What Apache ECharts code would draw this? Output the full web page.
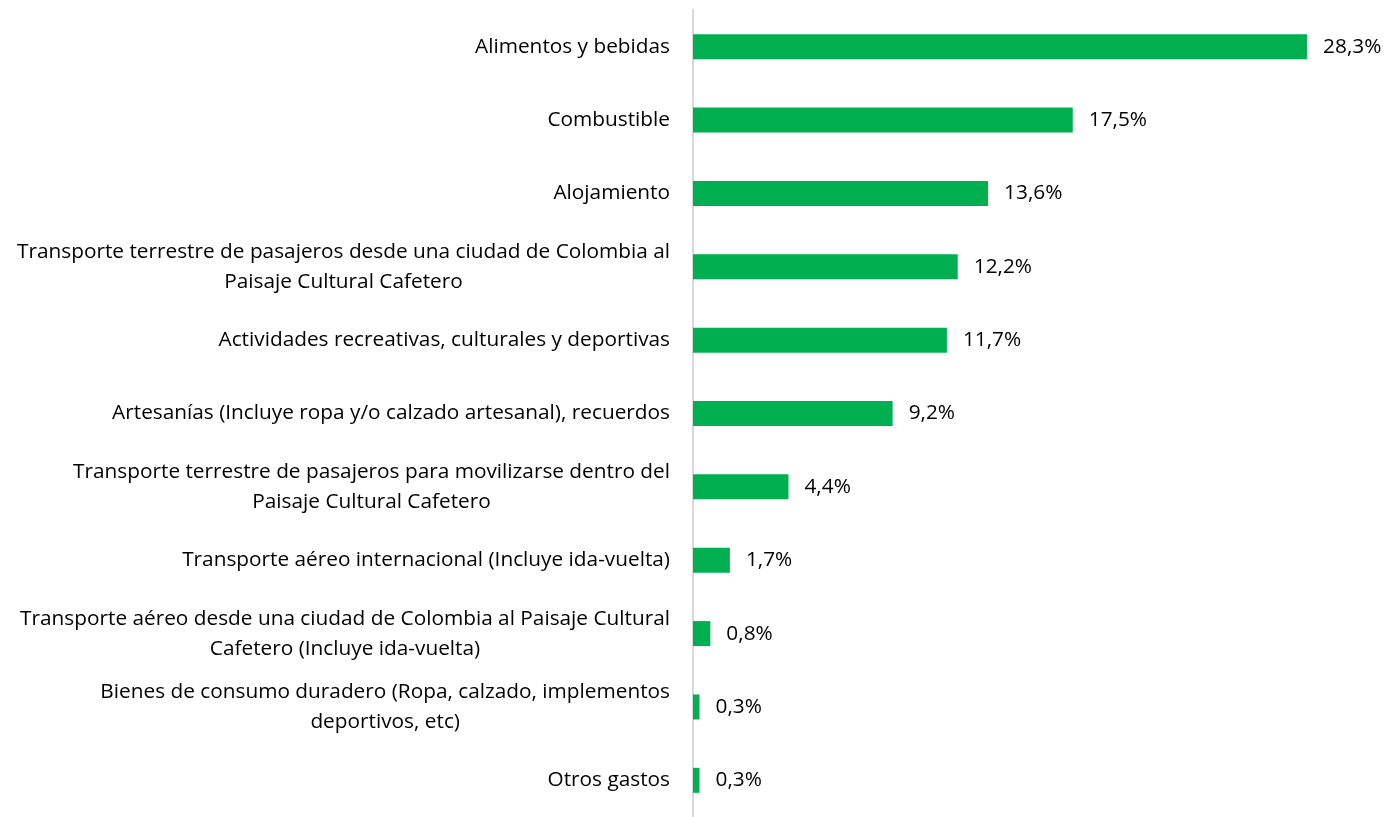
<!DOCTYPE html>
<html>
<head>
<meta charset="utf-8">
<script src="https://cdn.jsdelivr.net/npm/echarts@6/dist/echarts.min.js"></script>
<style>
  html, body { margin: 0; padding: 0; background: #fff; }
  #chart { width: 1384px; height: 817px; }
</style>
</head>
<body>
<div id="chart"></div>
<script>
// categorias del gasto (de arriba hacia abajo)
const categorias = [
  'Alimentos y bebidas',
  'Combustible',
  'Alojamiento',
  'Transporte terrestre de pasajeros desde una ciudad de Colombia al\nPaisaje Cultural Cafetero',
  'Actividades recreativas, culturales y deportivas',
  'Artesanías (Incluye ropa y/o calzado artesanal), recuerdos',
  'Transporte terrestre de pasajeros para movilizarse dentro del\nPaisaje Cultural Cafetero',
  'Transporte aéreo internacional (Incluye ida-vuelta)',
  'Transporte aéreo desde una ciudad de Colombia al Paisaje Cultural\nCafetero (Incluye ida-vuelta)',
  'Bienes de consumo duradero (Ropa, calzado, implementos\ndeportivos, etc)',
  'Otros gastos'
]
const porcentajes = [28.3, 17.5, 13.6, 12.2, 11.7, 9.2, 4.4, 1.7, 0.8, 0.3, 0.3]

const chart = echarts.init(document.getElementById('chart'))

chart.setOption({
  animation: false,
  textStyle: { fontFamily: 'Open Sans' },
  grid: {
    left: 693,
    right: 40,
    top: 10,
    bottom: -5,
    containLabel: false
  },
  xAxis: {
    type: 'value',
    min: 0,
    max: 30,
    show: false
  },
  yAxis: {
    type: 'category',
    inverse: true,
    data: categorias,
    axisLine: { show: true, lineStyle: { color: '#d9d9d9', width: 2 } },
    axisTick: { show: false },
    axisLabel: {
      margin: 23,
      color: '#000',
      fontSize: 20.8,
      lineHeight: 30,
      align: 'right',
      // lineas centradas entre si, bloque alineado a la derecha
      formatter: v => v.split('\n').map(s => '{c|' + s + '}').join('\n'),
      rich: {
        c: { align: 'center', fontSize: 20.8, lineHeight: 30, color: '#000', fontFamily: 'Open Sans' }
      }
    }
  },
  series: [{
    type: 'bar',
    data: porcentajes,
    barWidth: 25,
    itemStyle: { color: '#00b050' },
    label: {
      show: true,
      position: 'right',
      distance: 16,
      color: '#000',
      fontSize: 20.8,
      formatter: p => p.value.toFixed(1).replace('.', ',') + '%'
    }
  }]
})
</script>
</body>
</html>
